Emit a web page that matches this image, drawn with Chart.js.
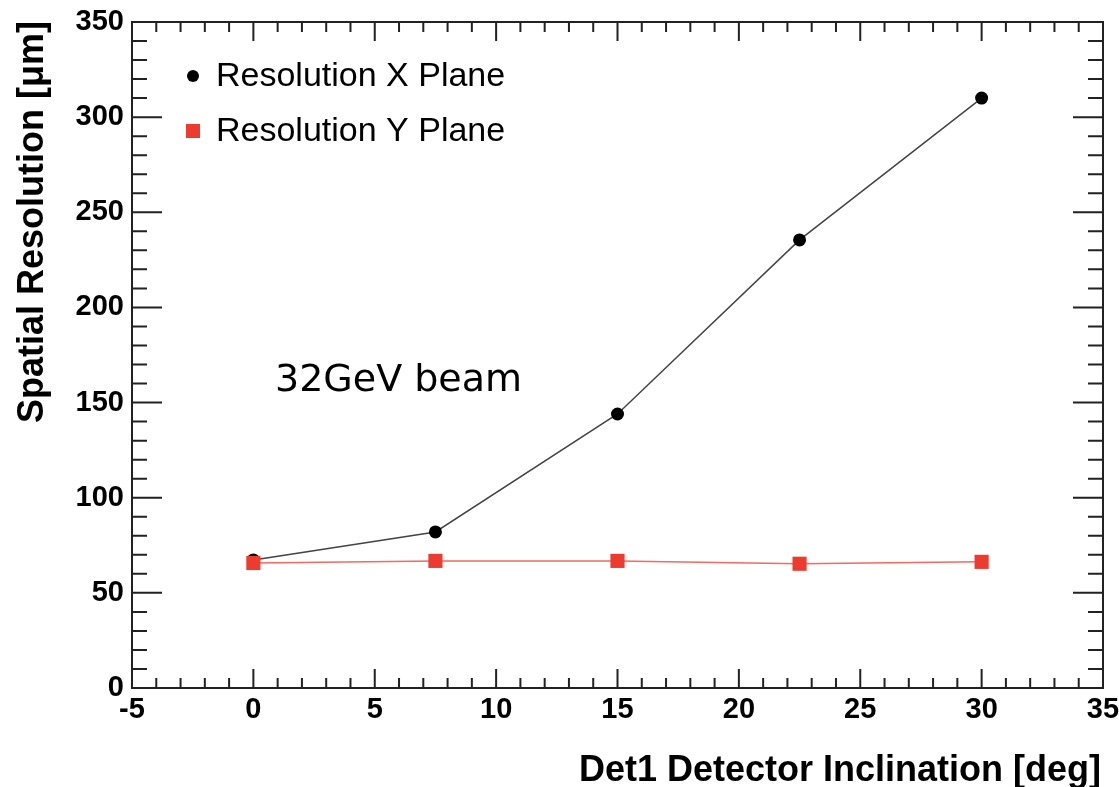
<!DOCTYPE html>
<html>
<head>
<meta charset="utf-8">
<title>Spatial Resolution vs Inclination</title>
<script src="https://cdn.jsdelivr.net/npm/chart.js@4/dist/chart.umd.min.js"></script>
<style>
  html, body { margin: 0; padding: 0; background: #fff; }
  #wrap { width: 1119px; height: 787px; }
</style>
</head>
<body>
<div id="wrap"><canvas id="chart" width="1119" height="787"></canvas></div>
<script>
// detector inclination [deg]
const angles = [0, 7.5, 15, 22.5, 30];
// spatial resolution [um]
const resX = [67.3, 82, 144, 235.5, 310];
const resY = [65.7, 66.8, 66.8, 65.3, 66.3];

const seriesNames = ['Resolution X Plane', 'Resolution Y Plane'];
const annotation = '32GeV beam';
const xTitle = 'Det1 Detector Inclination [deg]';
const yTitle = 'Spatial Resolution [\u03bcm]';

const RED = '#ee3b30';
const FONT = '"Liberation Sans", Arial, Helvetica, sans-serif';

// ROOT-style frame with inner ticks, titles, legend and text
const rootFrame = {
    id: 'rootFrame',
    afterDatasetsDraw(chart) {
        const { ctx, chartArea: a, scales: { x, y } } = chart;
        ctx.save();
        ctx.strokeStyle = '#222';
        ctx.lineWidth = 2;
        ctx.strokeRect(a.left, a.top, a.right - a.left, a.bottom - a.top);

        ctx.beginPath();
        for (let v = -5; v <= 35; v++) {
            const px = x.getPixelForValue(v);
            const len = v % 5 === 0 ? 19 : 10;
            ctx.moveTo(px, a.bottom); ctx.lineTo(px, a.bottom - len);
            ctx.moveTo(px, a.top); ctx.lineTo(px, a.top + len);
        }
        for (let v = 0; v <= 350; v += 10) {
            const py = y.getPixelForValue(v);
            const len = v % 50 === 0 ? 30 : 15;
            ctx.moveTo(a.left, py); ctx.lineTo(a.left + len, py);
            ctx.moveTo(a.right, py); ctx.lineTo(a.right - len, py);
        }
        ctx.stroke();

        // axis titles
        ctx.fillStyle = '#000';
        ctx.font = 'bold 36px ' + FONT;
        ctx.textAlign = 'right';
        ctx.textBaseline = 'alphabetic';
        ctx.fillText(xTitle, a.right - 2, 781);

        ctx.save();
        ctx.translate(43, a.top - 1);
        ctx.rotate(-Math.PI / 2);
        ctx.textAlign = 'right';
        ctx.fillText(yTitle, 0, 0);
        ctx.restore();

        // legend
        ctx.font = '34px ' + FONT;
        ctx.textAlign = 'left';
        ctx.textBaseline = 'middle';
        ctx.fillStyle = '#000';
        ctx.beginPath();
        ctx.arc(193, 76, 6, 0, Math.PI * 2);
        ctx.fill();
        ctx.fillText(seriesNames[0], 216, 77);
        ctx.fillStyle = RED;
        ctx.fillRect(186, 124, 14, 14);
        ctx.fillStyle = '#000';
        ctx.fillText(seriesNames[1], 216, 132);

        // beam label
        ctx.font = '38px "Comic Sans MS", "DejaVu Sans", sans-serif';
        ctx.fillText(annotation, 275, 381);
        ctx.restore();
    }
};

new Chart(document.getElementById('chart'), {
    type: 'line',
    data: {
        datasets: [
            {
                label: seriesNames[1],
                data: angles.map((a, i) => ({ x: a, y: resY[i] })),
                borderColor: '#f26a60',
                borderWidth: 1.5,
                backgroundColor: RED,
                pointStyle: 'rect',
                pointRadius: 10,
                pointBorderWidth: 0,
                order: 0
            },
            {
                label: seriesNames[0],
                data: angles.map((a, i) => ({ x: a, y: resX[i] })),
                borderColor: '#444',
                borderWidth: 1.5,
                backgroundColor: '#000',
                pointStyle: 'circle',
                pointRadius: 6.5,
                pointBorderWidth: 0,
                order: 1
            }
        ]
    },
    options: {
        responsive: false,
        animation: false,
        layout: { padding: { top: 22, right: 16, left: 0, bottom: 0 } },
        plugins: {
            legend: { display: false },
            tooltip: { enabled: false }
        },
        scales: {
            x: {
                type: 'linear',
                min: -5,
                max: 35,
                grid: { display: false, drawTicks: false },
                border: { display: false },
                ticks: {
                    stepSize: 5,
                    padding: 5,
                    color: '#000',
                    font: { family: FONT, size: 29, weight: 'bold' }
                },
                afterFit: (s) => {
                    s.height = 99;
                    s.paddingLeft = 0;
                    s.paddingRight = 0;
                }
            },
            y: {
                min: 0,
                max: 350,
                grid: { display: false, drawTicks: false },
                border: { display: false },
                ticks: {
                    stepSize: 50,
                    padding: 8,
                    color: '#000',
                    font: { family: FONT, size: 29, weight: 'bold' }
                },
                afterFit: (s) => {
                    s.width = 132;
                    s.paddingTop = 0;
                    s.paddingBottom = 0;
                }
            }
        }
    },
    plugins: [rootFrame]
});
</script>
</body>
</html>
